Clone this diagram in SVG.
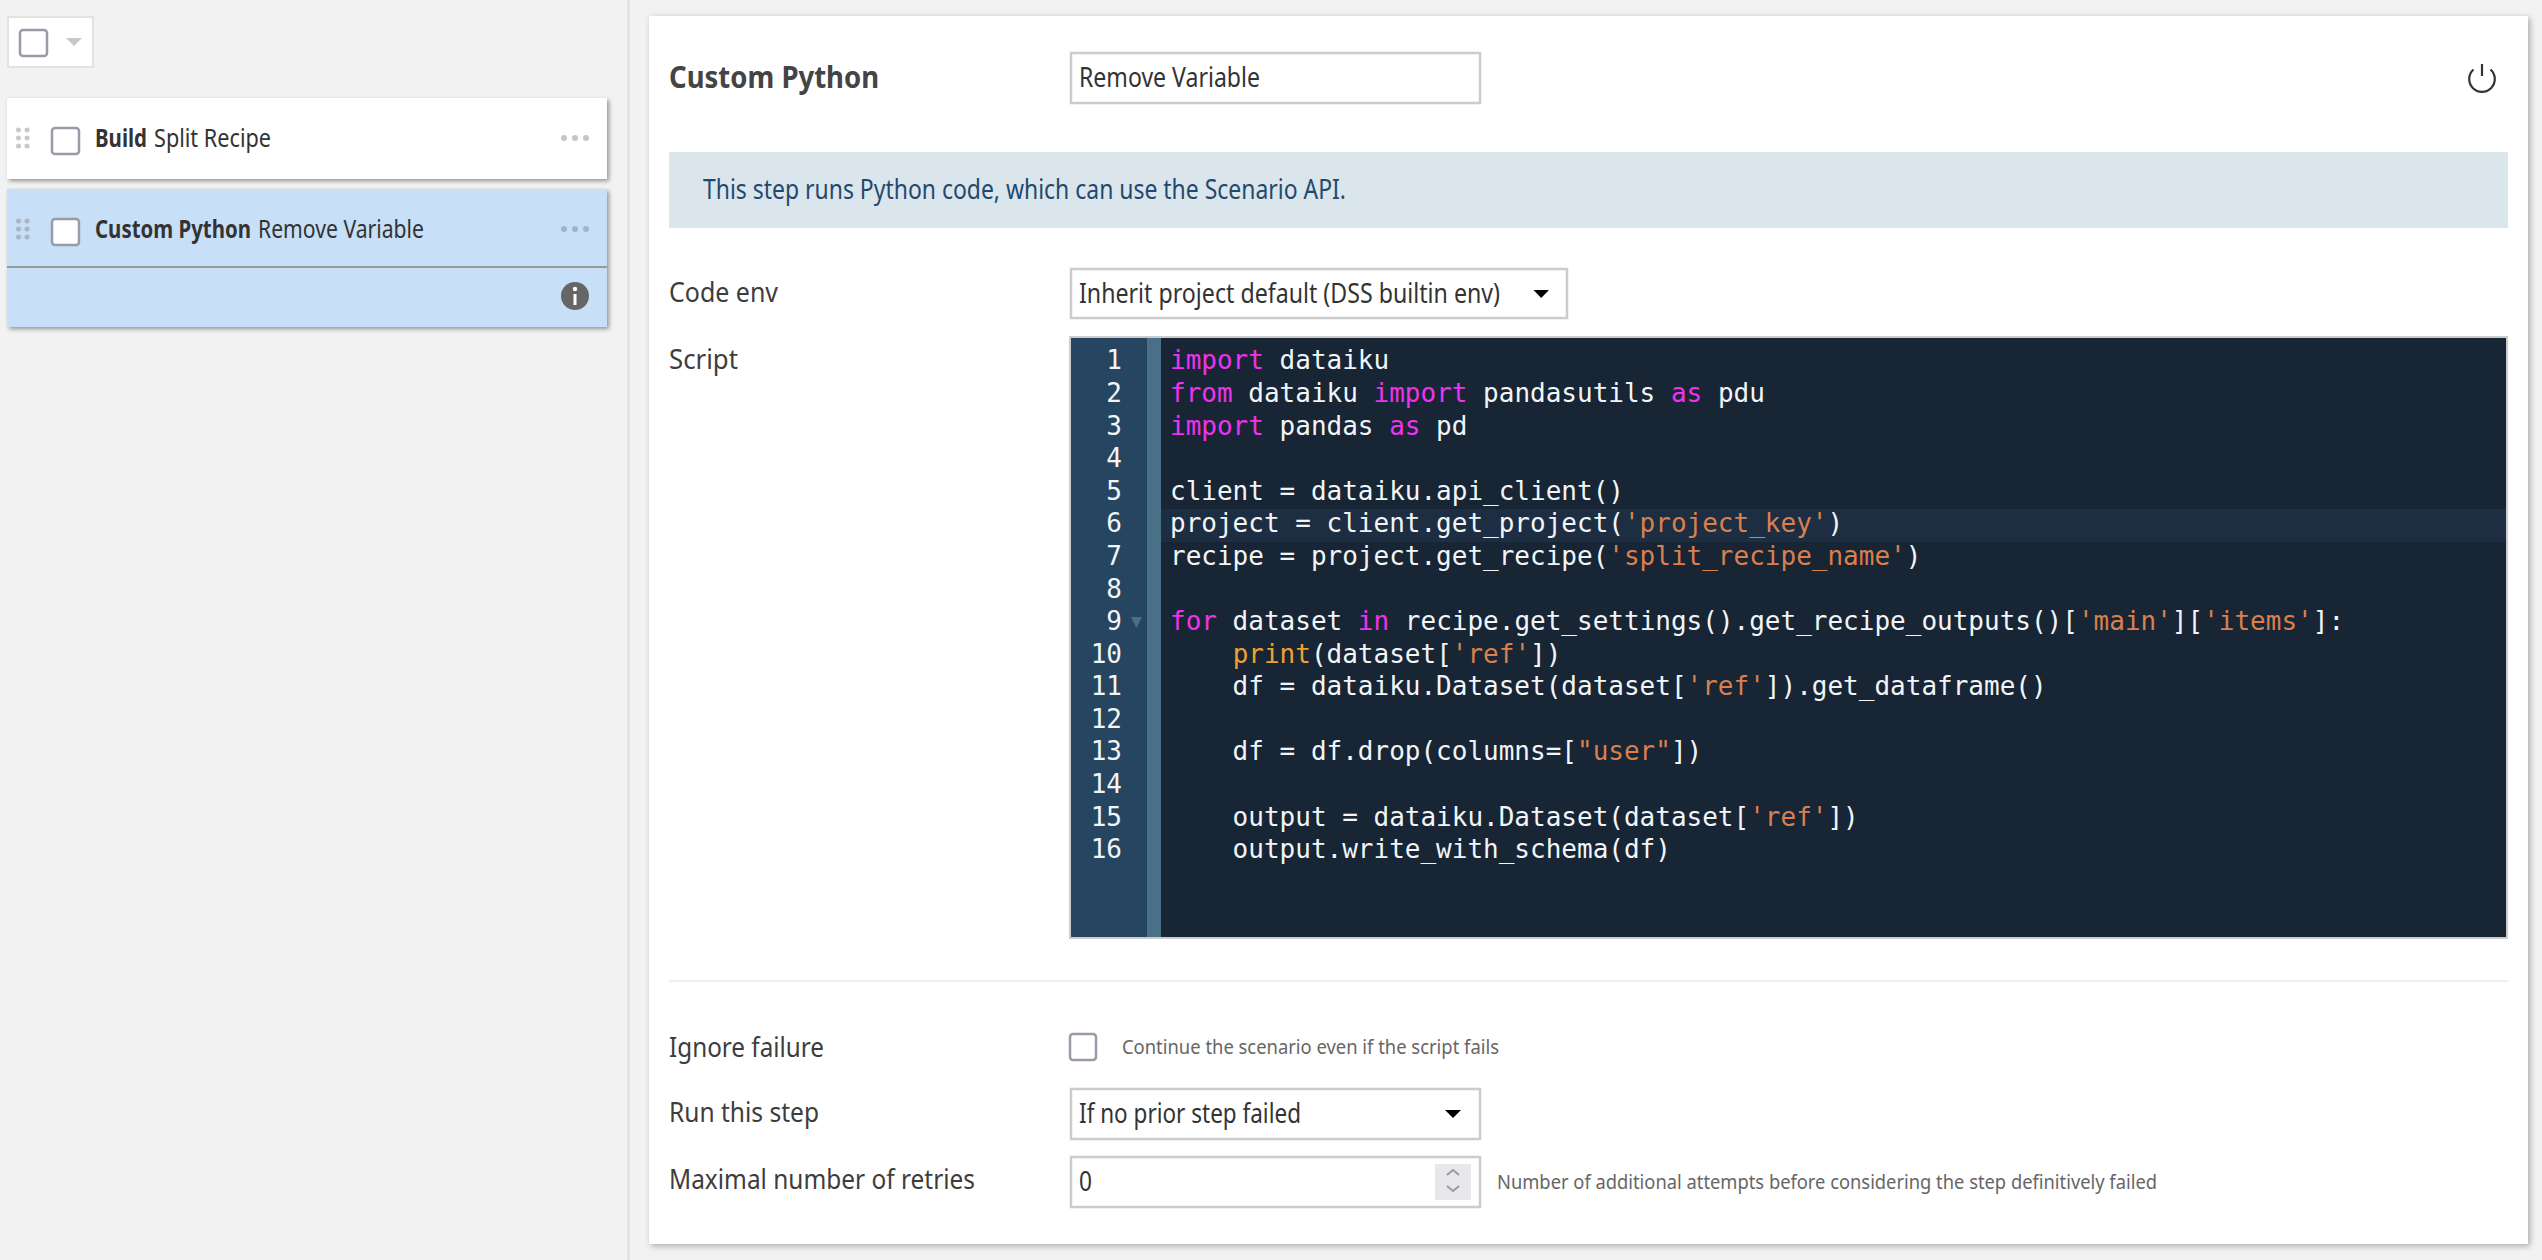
<svg xmlns="http://www.w3.org/2000/svg" width="2542" height="1260" viewBox="0 0 2542 1260">
<style>
text{font-family:"Noto Sans","Liberation Sans",sans-serif;fill:#333;font-size:25px}
.b{font-weight:700}
.lab{font-size:26.500px;fill:#3d3d3d}
.sm{font-size:20px;fill:#666}
.fld{fill:#fff;stroke:#ccc;stroke-width:2.500}
.cb{fill:none;stroke:#9a9aa8;stroke-width:2.500}
.cbw{fill:#fff;stroke:#9a9aa8;stroke-width:2.500}
.gd{fill:#c9c9c9}
.gb{fill:#a9b6c6}
.dots{fill:#c6c6c6}
.dotsb{fill:#a4b4c8}
.code text,text.code{font-family:"DejaVu Sans Mono","Liberation Mono",monospace;font-size:26px;fill:#f2f5f8;white-space:pre}
.ln{text-anchor:end}
.k{fill:#ee33ee}
.s{fill:#d9804d}
.p{fill:#f0a030}
</style>
<defs>
<filter id="sh" x="-5%" y="-15%" width="110%" height="130%"><feDropShadow dx="2" dy="2" stdDeviation="2.200" flood-color="#000" flood-opacity=".4"/></filter>
<filter id="shp" x="-2%" y="-2%" width="104%" height="104%"><feDropShadow dx="2" dy="2" stdDeviation="3" flood-color="#000" flood-opacity=".3"/></filter>
</defs>
<rect width="2542" height="1260" fill="#f2f2f2"/>
<rect x="627" y="0" width="3" height="1260" fill="#e4e4e4"/>

<g id="select-all">
<rect x="8" y="17" width="85" height="50" fill="#fff" stroke="#e2e2e2" stroke-width="2"/>
<rect x="20" y="30" width="27" height="26" rx="3" class="cb"/>
<path d="M66 38H82L74 46Z" fill="#c8c8c8"/>
</g>

<g id="step-build">
<rect x="7" y="98" width="600" height="81" fill="#fff" filter="url(#sh)"/>
<g class="gd"><circle cx="18.500" cy="130" r="2.500"/><circle cx="27" cy="130" r="2.500"/><circle cx="18.500" cy="138" r="2.500"/><circle cx="27" cy="138" r="2.500"/><circle cx="18.500" cy="146" r="2.500"/><circle cx="27" cy="146" r="2.500"/></g>
<rect x="52" y="128" width="27" height="26" rx="3" class="cb"/>
<text y="147"><tspan x="95" class="b" textLength="52" lengthAdjust="spacingAndGlyphs">Build</tspan><tspan x="154" textLength="117" lengthAdjust="spacingAndGlyphs">Split Recipe</tspan></text>
<g class="dots"><circle cx="564" cy="138" r="3"/><circle cx="575" cy="138" r="3"/><circle cx="586" cy="138" r="3"/></g>
</g>

<g id="step-python">
<rect x="7" y="189" width="600" height="138" fill="#c8dff8" filter="url(#sh)"/>
<rect x="7" y="266" width="600" height="2" fill="#999"/>
<g class="gb"><circle cx="18.500" cy="221" r="2.500"/><circle cx="27" cy="221" r="2.500"/><circle cx="18.500" cy="229" r="2.500"/><circle cx="27" cy="229" r="2.500"/><circle cx="18.500" cy="237" r="2.500"/><circle cx="27" cy="237" r="2.500"/></g>
<rect x="52" y="219" width="27" height="26" rx="3" class="cbw"/>
<text y="238"><tspan x="95" class="b" textLength="156" lengthAdjust="spacingAndGlyphs">Custom Python</tspan><tspan x="258" textLength="166" lengthAdjust="spacingAndGlyphs">Remove Variable</tspan></text>
<g class="dotsb"><circle cx="564" cy="229" r="3"/><circle cx="575" cy="229" r="3"/><circle cx="586" cy="229" r="3"/></g>
<circle cx="575" cy="296" r="14" fill="#666"/>
<circle cx="575" cy="289" r="2.200" fill="#fff"/>
<rect x="573.500" y="294" width="3" height="11" fill="#fff"/>
</g>

<g id="panel">
<rect x="649" y="16" width="1879" height="1228" fill="#fff" filter="url(#shp)"/>
<text x="669" y="88" class="b" style="font-size:31px;fill:#444" textLength="210" lengthAdjust="spacingAndGlyphs">Custom Python</text>
<rect x="1071" y="53" width="409" height="50" class="fld"/>
<text x="1079" y="87" class="lab" style="fill:#333" textLength="181" lengthAdjust="spacingAndGlyphs">Remove Variable</text>
<g fill="none" stroke="#333" stroke-width="2.200"><path d="M2473.500 69.500A12.800 12.800 0 1 0 2490.500 69.500"/><path d="M2482 64V76"/></g>

<rect x="669" y="152" width="1839" height="76" fill="#dbe5ec"/>
<text x="703" y="199" style="fill:#1f4a6e" class="lab" textLength="643" lengthAdjust="spacingAndGlyphs">This step runs Python code, which can use the Scenario API.</text>

<text x="669" y="302" class="lab" textLength="109" lengthAdjust="spacingAndGlyphs">Code env</text>
<rect x="1071" y="269" width="496" height="49" class="fld"/>
<text x="1079" y="303" class="lab" style="fill:#333" textLength="421" lengthAdjust="spacingAndGlyphs">Inherit project default (DSS builtin env)</text>
<path d="M1533.500 290H1549L1541.200 298Z" fill="#000"/>

<text x="669" y="369" class="lab" textLength="69" lengthAdjust="spacingAndGlyphs">Script</text>
</g>

<g id="code-editor" class="code">
<rect x="1070" y="337" width="1437" height="601" fill="#172535" stroke="#ccc" stroke-width="2"/>
<rect x="1071" y="338" width="76" height="599" fill="#264560"/>
<rect x="1147" y="338" width="14" height="599" fill="#4a7087"/>
<rect x="1161" y="509" width="1345" height="33" fill="#1d2e42"/>
<path d="M1131 617H1142L1136.500 628Z" fill="#4a7087"/>
<text class="ln" x="1122" y="369">1</text>
<text class="ln" x="1122" y="402">2</text>
<text class="ln" x="1122" y="434.500">3</text>
<text class="ln" x="1122" y="467">4</text>
<text class="ln" x="1122" y="499.500">5</text>
<text class="ln" x="1122" y="532">6</text>
<text class="ln" x="1122" y="565">7</text>
<text class="ln" x="1122" y="597.500">8</text>
<text class="ln" x="1122" y="630">9</text>
<text class="ln" x="1122" y="662.500">10</text>
<text class="ln" x="1122" y="695">11</text>
<text class="ln" x="1122" y="727.500">12</text>
<text class="ln" x="1122" y="760">13</text>
<text class="ln" x="1122" y="793">14</text>
<text class="ln" x="1122" y="825.500">15</text>
<text class="ln" x="1122" y="858">16</text>
<text x="1170" y="369" xml:space="preserve"><tspan class="k">import</tspan> dataiku</text>
<text x="1170" y="402" xml:space="preserve"><tspan class="k">from</tspan> dataiku <tspan class="k">import</tspan> pandasutils <tspan class="k">as</tspan> pdu</text>
<text x="1170" y="434.500" xml:space="preserve"><tspan class="k">import</tspan> pandas <tspan class="k">as</tspan> pd</text>
<text x="1170" y="499.500" xml:space="preserve">client = dataiku.api_client()</text>
<text x="1170" y="532" xml:space="preserve">project = client.get_project(<tspan class="s">'project_key'</tspan>)</text>
<text x="1170" y="565" xml:space="preserve">recipe = project.get_recipe(<tspan class="s">'split_recipe_name'</tspan>)</text>
<text x="1170" y="630" xml:space="preserve"><tspan class="k">for</tspan> dataset <tspan class="k">in</tspan> recipe.get_settings().get_recipe_outputs()[<tspan class="s">'main'</tspan>][<tspan class="s">'items'</tspan>]:</text>
<text x="1170" y="662.500" xml:space="preserve">    <tspan class="p">print</tspan>(dataset[<tspan class="s">'ref'</tspan>])</text>
<text x="1170" y="695" xml:space="preserve">    df = dataiku.Dataset(dataset[<tspan class="s">'ref'</tspan>]).get_dataframe()</text>
<text x="1170" y="760" xml:space="preserve">    df = df.drop(columns=[<tspan class="s">"user"</tspan>])</text>
<text x="1170" y="825.500" xml:space="preserve">    output = dataiku.Dataset(dataset[<tspan class="s">'ref'</tspan>])</text>
<text x="1170" y="858" xml:space="preserve">    output.write_with_schema(df)</text>
</g>

<g id="options">
<rect x="669" y="980" width="1839" height="2" fill="#eee"/>
<text x="669" y="1057" class="lab" textLength="155" lengthAdjust="spacingAndGlyphs">Ignore failure</text>
<rect x="1070" y="1034" width="26" height="26" rx="3" class="cb"/>
<text x="1122" y="1054" class="sm" textLength="377" lengthAdjust="spacingAndGlyphs">Continue the scenario even if the script fails</text>
<text x="669" y="1122" class="lab" textLength="150" lengthAdjust="spacingAndGlyphs">Run this step</text>
<rect x="1071" y="1089" width="409" height="50" class="fld"/>
<text x="1079" y="1123" class="lab" style="fill:#333" textLength="222" lengthAdjust="spacingAndGlyphs">If no prior step failed</text>
<path d="M1445 1110H1461L1453 1118Z" fill="#000"/>
<text x="669" y="1189" class="lab" textLength="306" lengthAdjust="spacingAndGlyphs">Maximal number of retries</text>
<rect x="1071" y="1157" width="409" height="50" class="fld"/>
<text x="1079" y="1191" class="lab" style="fill:#333" textLength="13" lengthAdjust="spacingAndGlyphs">0</text>
<rect x="1435" y="1164" width="36" height="36" fill="#e8e8ec"/>
<path d="M1447 1175L1453 1170L1459 1175M1447 1186L1453 1191L1459 1186" fill="none" stroke="#9a9aa8" stroke-width="2"/>
<text x="1497" y="1189" class="sm" textLength="660" lengthAdjust="spacingAndGlyphs">Number of additional attempts before considering the step definitively failed</text>
</g>
</svg>
